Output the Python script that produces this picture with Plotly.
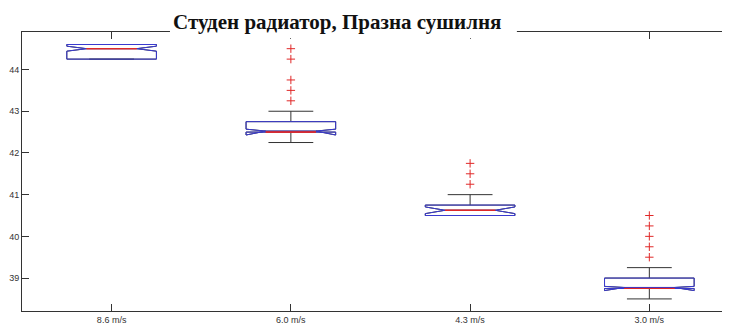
import plotly.graph_objects as go

# ---- data ----
categories = ["8.6 m/s", "6.0 m/s", "4.3 m/s", "3.0 m/s"]
positions = [1, 2, 3, 4]
q1 = [44.25, 42.5, 40.5, 38.75]
median = [44.5, 42.5, 40.625, 38.75]
q3 = [44.6, 42.75, 40.75, 39.0]
lower_whisker = [44.25, 42.25, 40.5, 38.5]
upper_whisker = [44.6, 43.0, 41.0, 39.25]
notch_span = [0.06, 0.07, 0.08, 0.05]
outliers = [
    [],
    [43.25, 43.5, 43.75, 44.25, 44.5],
    [41.25, 41.5, 41.75],
    [39.5, 39.75, 40.0, 40.25, 40.5],
]
y_ticks = [39, 40, 41, 42, 43, 44]
title_text = "Студен радиатор, Празна сушилня"

BOX_W = 0.5
NOTCH_W = 0.22
BLUE = "#3a3ad0"
DARK = "#333333"
RED = "#e02828"

fig = go.Figure()

# whiskers + caps (dark)
fig.add_trace(go.Box(
    x=positions, q1=q1, median=median, q3=q3,
    lowerfence=lower_whisker, upperfence=upper_whisker,
    notchspan=notch_span, notched=True, notchwidth=NOTCH_W,
    width=BOX_W, whiskerwidth=0.5,
    line=dict(color=DARK, width=1), fillcolor="rgba(0,0,0,0)",
    boxpoints=False, hoverinfo="skip", showlegend=False,
))
# notched box (blue)
fig.add_trace(go.Box(
    x=positions, q1=q1, median=median, q3=q3,
    lowerfence=q1, upperfence=q3,
    notchspan=notch_span, notched=True, notchwidth=NOTCH_W,
    width=BOX_W, showwhiskers=False,
    line=dict(color=BLUE, width=1), fillcolor="rgba(0,0,0,0)",
    boxpoints=False, hoverinfo="skip", showlegend=False,
))
# median line (red)
fig.add_trace(go.Box(
    x=positions, q1=median, median=median, q3=median,
    lowerfence=median, upperfence=median,
    width=BOX_W * (1 - 2 * NOTCH_W), showwhiskers=False,
    line=dict(color=RED, width=1), fillcolor="rgba(0,0,0,0)",
    boxpoints=False, hoverinfo="skip", showlegend=False,
))
# outliers
ox, oy = [], []
for p, vals in zip(positions, outliers):
    for v in vals:
        ox.append(p)
        oy.append(v)
fig.add_trace(go.Scatter(
    x=ox, y=oy, mode="markers",
    marker=dict(symbol="cross-thin", size=6, line=dict(color=RED, width=1)),
    hoverinfo="skip", showlegend=False,
))

axis_font = dict(family="Liberation Sans, Arial, sans-serif", size=9, color="#333333")

# the page body has an 8px margin, so the figure is offset by 8px
fig.update_layout(
    width=722, height=317,
    margin=dict(l=14, r=0, t=24, b=14),
    paper_bgcolor="white", plot_bgcolor="white",
    boxmode="overlay",
    xaxis=dict(
        range=[0.5, 4.45], tickvals=positions, ticktext=categories,
        ticks="inside", ticklen=7, tickcolor=DARK, tickwidth=1,
        showline=True, linecolor=DARK, linewidth=1, mirror="ticks",
        showgrid=False, zeroline=False, tickfont=axis_font,
    ),
    yaxis=dict(
        range=[38.21, 44.90], tickvals=y_ticks,
        ticks="inside", ticklen=7, tickcolor=DARK, tickwidth=1,
        showline=True, linecolor=DARK, linewidth=1,
        showgrid=False, zeroline=False, tickfont=axis_font,
    ),
    shapes=[dict(
        type="rect", xref="paper", yref="paper",
        x0=0.209, x1=0.699, y0=0.978, y1=1.2,
        fillcolor="white", line=dict(width=0), layer="above",
    )],
    annotations=[dict(
        text="<b>" + title_text + "</b>", xref="paper", yref="paper",
        x=0.4456, y=1.084, xanchor="center", yanchor="top",
        showarrow=False, borderpad=0,
        font=dict(family="Liberation Serif, Times New Roman, serif", size=21, color="#111111"),
    )],
)

fig.write_html("out.html")
